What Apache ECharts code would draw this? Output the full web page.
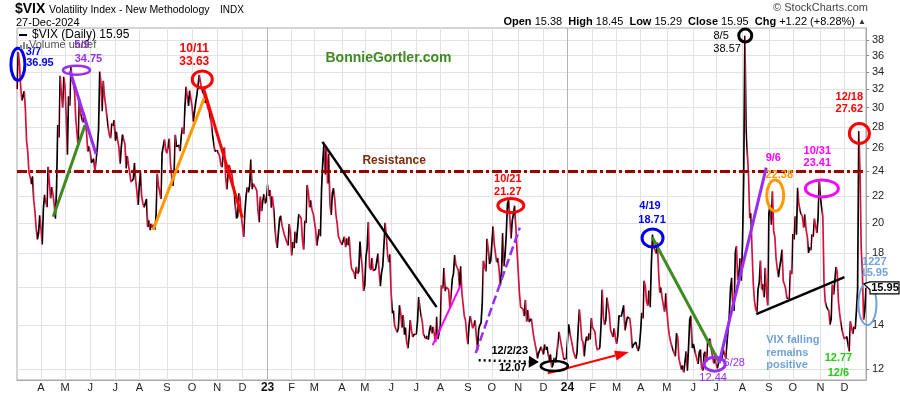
<!DOCTYPE html>
<html><head><meta charset="utf-8">
<script src="https://cdn.jsdelivr.net/npm/echarts@6/dist/echarts.min.js"></script>
<style>html,body{margin:0;padding:0;background:#fff}#c{width:900px;height:396px}</style>
</head><body><div id="c"></div>
<script>
const FONT = '"Liberation Sans", Arial, sans-serif';
const monthLetters = ['J','F','M','A','M','J','J','A','S','O','N','D'];
const yTicks = [12,14,16,18,20,22,24,26,28,30,32,34,36,38];
const resistanceLevel = 24;

// VIX daily closes, one inner array per month (trading days)
const vix2022 = [ // Mar (from 3/4) .. Dec
 [31.98,36.45,35.13,32.45,30.75,30.75,31.77,29.83,26.67,25.67,23.87,23.53,22.94,23.57,21.67,20.81,19.63,18.90,19.33,20.56],
 [19.63,18.57,21.03,22.10,21.55,21.16,24.37,24.26,21.82,22.70,22.17,21.37,20.32,22.68,28.21,27.02,33.52,31.60,29.99,33.40],
 [32.34,29.25,25.42,31.20,30.19,34.75,32.99,32.56,31.77,28.87,27.47,26.10,30.96,29.35,29.43,28.48,29.45,28.37,27.50,25.72,26.19],
 [25.69,24.72,24.79,25.07,24.02,23.96,26.09,27.75,34.02,32.69,29.62,32.95,31.13,30.19,28.95,29.05,27.23,26.95,28.36,28.16,28.71],
 [26.70,27.54,26.73,26.08,24.64,26.17,27.29,26.82,26.40,24.23,25.30,24.50,23.88,23.11,23.03,23.36,24.69,23.24,22.33,21.33],
 [22.84,23.93,21.95,21.44,21.15,21.29,21.77,19.74,20.20,19.53,19.95,19.69,19.90,19.56,20.60,23.80,22.82,22.32,21.78,25.56,26.21,26.83,25.87],
 [25.56,25.47,26.91,24.64,23.61,22.79,23.87,27.27,26.16,26.27,26.30,25.76,27.16,27.99,27.35,29.92,32.26,32.18,30.18,31.84,31.62],
 [30.10,28.55,28.55,30.52,31.36,32.45,33.63,33.57,31.94,32.02,31.37,30.50,30.76,29.98,29.69,29.85,28.46,27.28,27.39,25.75,25.88],
 [25.81,25.86,25.30,24.55,24.35,25.54,26.09,23.53,22.52,23.73,24.54,24.11,23.93,23.12,22.36,22.36,20.35,20.50,22.21,21.89,20.58],
 [19.84,19.06,20.75,21.97,22.68,22.29,22.83,25.00,22.55,22.97,22.83,22.62,22.42,20.87,20.07,21.97,20.87,21.65,22.14,21.44,21.67]
];
const vix2023 = [
 [22.90,22.01,22.46,21.13,21.97,21.07,21.09,18.83,18.35,19.36,20.34,20.52,19.85,19.81,19.20,19.08,18.73,18.51,19.94,19.40],
 [17.87,18.73,18.33,19.43,18.66,19.63,20.63,20.53,20.34,18.91,18.23,20.17,20.02,22.87,22.29,21.14,21.67,20.95,20.70],
 [20.58,19.59,18.49,18.61,19.59,19.11,22.61,24.80,26.52,23.73,26.14,22.99,25.51,21.38,20.60,22.26,22.61,21.74,20.60,19.97,19.12,19.02,18.70],
 [18.55,18.58,19.08,18.40,18.97,18.53,19.09,17.80,17.07,16.95,16.83,16.46,17.17,16.77,16.89,18.76,18.84,17.03,15.78],
 [16.08,17.78,18.34,20.09,17.19,16.98,17.71,16.94,16.93,17.03,17.12,17.99,16.87,16.05,16.81,17.21,18.53,20.03,19.14,17.95,17.46,17.94],
 [15.65,14.60,14.73,13.96,13.94,13.65,13.83,15.01,14.61,13.88,14.50,13.54,13.88,13.20,12.91,13.44,14.25,13.74,13.43,13.54,13.59],
 [13.57,14.18,15.44,14.83,14.84,14.15,13.54,13.61,13.34,13.48,13.30,13.76,13.99,13.60,13.91,13.86,13.19,14.41,13.33,13.63],
 [13.93,16.09,15.92,17.10,15.77,15.99,15.96,15.85,14.84,14.82,16.46,16.78,17.89,17.30,17.13,16.97,15.98,17.20,15.68,15.08,14.45,14.24,13.57],
 [13.09,14.02,14.45,14.40,13.84,13.80,14.23,13.48,12.82,13.79,14.00,14.11,15.14,17.54,17.20,16.90,18.94,18.22,17.34,17.52],
 [17.61,19.78,18.58,18.49,17.45,17.70,17.03,16.09,16.69,19.32,17.21,17.88,19.22,21.40,21.71,20.37,18.97,20.19,20.68,21.27,19.75,18.14],
 [16.87,15.66,14.91,14.89,14.81,14.45,15.29,14.17,14.76,14.16,14.18,14.32,13.80,13.41,13.35,12.85,12.46,12.69,12.69,12.98,12.92],
 [12.63,13.08,12.85,12.97,13.06,12.35,12.63,12.07,12.19,12.48,12.28,12.56,12.53,13.67,13.65,13.03,12.99,12.43,12.47,12.45]
];
const vix2024 = [
 [13.20,14.04,14.13,13.35,13.08,12.76,12.69,12.44,12.70,13.84,14.79,14.13,13.30,13.19,12.55,13.14,13.45,13.26,13.60,13.31,14.35],
 [13.88,13.85,13.67,13.06,12.83,12.79,12.93,13.93,15.85,14.38,14.01,14.24,15.42,15.34,14.54,13.75,13.74,13.43,13.84,13.40],
 [13.11,13.49,14.46,14.50,14.44,14.74,15.01,13.75,13.75,14.40,14.41,14.33,13.82,12.92,13.06,13.06,13.19,13.24,12.78,13.01],
 [13.65,14.61,14.33,16.35,16.03,15.19,14.98,15.80,14.91,17.31,19.23,18.40,18.21,18.00,18.71,16.94,15.69,15.97,15.37,15.03,14.67,15.65],
 [14.68,14.00,13.49,13.23,13.00,13.00,12.69,12.55,13.60,13.42,12.45,12.42,11.99,12.15,11.86,12.29,12.77,11.93,12.92,14.28,14.47,12.92],
 [13.11,13.16,12.63,12.58,12.22,12.74,12.85,12.04,11.94,12.66,12.75,12.30,13.28,13.20,13.33,12.84,12.55,12.24,12.44],
 [12.22,12.03,12.09,12.48,12.37,12.51,12.85,12.89,12.46,13.12,13.19,14.48,15.93,16.52,14.91,14.72,18.04,18.46,16.39,16.60,17.69,16.36],
 [18.59,23.39,38.57,27.71,27.85,23.79,20.37,20.71,18.12,16.19,15.23,14.80,14.65,15.88,16.27,17.55,15.86,16.15,15.43,17.11,15.65,15.00],
 [20.72,21.32,19.90,22.38,19.45,19.08,17.69,17.07,16.56,17.14,17.61,18.23,16.33,16.15,15.89,15.39,15.41,15.37,16.96,16.73],
 [19.26,18.90,20.49,19.21,22.64,21.42,20.86,20.93,20.46,19.70,20.64,19.58,19.11,18.03,18.37,18.20,19.24,19.08,20.33,19.80,19.34,20.35,23.16],
 [21.88,21.98,20.49,16.27,15.20,14.94,14.97,14.71,14.02,14.31,16.14,15.58,16.35,17.16,16.87,15.24,14.60,14.10,14.10,13.51],
 [13.34,13.30,13.45,13.54,12.77,14.19,14.18,13.58,13.92,13.81,14.69,15.87,27.62,24.09,18.36,16.78,14.27,14.73,15.95]
];
const yearBlocks = [[2022, 3, vix2022], [2023, 1, vix2023], [2024, 1, vix2024]];

// Annotation anchors in data space: [tradingDayIndex, value, ...]
const BLUE='#0000ee', PURPLE='#9a2ef0', RED='#ff0000', ORANGE='#ff9900', GREEN='#3f8a22',
      MAGENTA='#ff00ff', LBLUE='#6fa3da', BGREEN='#22cc11';
const noteEllipses = [
 [0.75,34.9,14,32,BLUE,3],[49.6,34.2,27,9,PURPLE,2.5],[154.5,33.1,20,17,RED,3],
 [411.8,21.28,26,14,RED,3],[448.1,12.13,27,10,'#000',2.5],[530.0,19.0,21,18,BLUE,3],
 [581.8,12.21,21,14,PURPLE,3],[607.3,38.6,13,13,'#000',3],[632.3,22.04,17,31,ORANGE,3],
 [671.2,22.59,33,17,MAGENTA,3],[702.5,27.4,20,20,RED,3],[709.2,15.07,18,42,LBLUE,2]
];
const noteLines = [
 [30.2,20.46,56.7,28.2,GREEN,3],[44.2,34.1,65.9,25.5,PURPLE,3],
 [113.5,19.53,156.1,31.0,ORANGE,3],[155.3,32.2,187.9,20.4,RED,3],
 [254.7,26.6,349.9,14.91,'#000',2.5],[346.6,13.05,370.0,16.1,MAGENTA,2],
 [382.5,12.69,419.3,19.7,PURPLE,2.5,[9,4]],
 [529.6,19.06,585.5,12.30,GREEN,3],[585.5,12.25,624.8,24.3,PURPLE,3],
 [616.5,14.55,690.0,16.56,'#000',2.5]
];
const noteArrows = [
 [385.0,12.38,435.2,12.30,'#000',2.5,[2,3],10,6],
 [442.7,11.83,510.3,12.74,RED,2,null,14,5]
];
const noteTexts = [
 [13.7,36.44,'3/7',BLUE,11,true],[19.1,35.06,'36.95',BLUE,11,true],
 [54.2,37.34,'5/9',PURPLE,11,true],[59.6,35.56,'34.75',PURPLE,11,true],
 [147.8,36.82,'10/11',RED,12,true],[147.8,35.19,'33.63',RED,12,true],
 [314.5,24.91,'Resistance','#7a2e0e',12,true],
 [309.8,35.68,'BonnieGortler.com',GREEN,14,true],
 [409.3,23.35,'10/21',RED,11,true],[409.3,22.31,'21.27',RED,11,true],
 [410.9,12.78,'12/2/23','#000',11,true],[413.4,12.04,'12.07','#000',11,true],
 [527.9,21.24,'4/19',BLUE,11,true],[529.6,20.23,'18.71',BLUE,11,true],
 [598.1,12.25,'6/28',PURPLE,11,false],[580.5,11.63,'12.44',PURPLE,11,false],
 [587.2,38.54,'8/5','#000',11,false],[592.2,36.82,'38.57','#000',11,false],
 [630.7,25.13,'9/6',MAGENTA,11,true],[635.7,23.68,'22.38',ORANGE,11,true],
 [667.4,25.8,'10/31',MAGENTA,11,true],[667.4,24.70,'23.41',MAGENTA,11,true],
 [694.1,31.12,'12/18',RED,11,true],[694.1,29.84,'27.62',RED,11,true],
 [714.9,17.46,'1227',LBLUE,11,true],[714.9,16.80,'15.95',LBLUE,11,true],
 [624.8,13.28,'VIX falling',LBLUE,11,true,'left'],[624.8,12.71,'remains',LBLUE,11,true,'left'],
 [624.8,12.17,'positive',LBLUE,11,true,'left'],
 [685.0,12.47,'12.77',BGREEN,11,true],[685.0,11.83,'12/6',BGREEN,11,true]
];

// Build categories / values
const cats = [], vals = [];
yearBlocks.forEach(([y, m0, months]) => months.forEach((mon, mi) => {
  const m = String(m0 + mi).padStart(2, '0');
  mon.forEach((v, k) => { cats.push(y + '-' + m + '-' + k); vals.push(v); });
}));
const isMonthStart = (i, v) => i > 0 && /-0$/.test(v);
const yearStarts = cats.filter(c => /-01-0$/.test(c));

const UP = '#000000', DOWN = '#d3123d';
const pieces = [];
let rs = 0, ru = vals[1] >= vals[0];
for (let i = 2; i < vals.length; i++) {
  const u = vals[i] >= vals[i-1];
  if (u !== ru) { pieces.push(pieces.length ? {gt: rs, lte: i-1, color: ru?UP:DOWN} : {gte: rs, lte: i-1, color: ru?UP:DOWN}); rs = i-1; ru = u; }
}
pieces.push({gt: rs, lte: vals.length-1, color: ru?UP:DOWN});

const chart = echarts.init(document.getElementById('c'), null, {renderer: 'canvas'});
const GRID = '#e2e2e2';
chart.setOption({
  animation: false,
  grid: {left: 17, right: 34, top: 28, bottom: 16, show: true, borderColor: '#a8a8a8', borderWidth: 1, containLabel: false, outerBoundsMode: 'none'},
  xAxis: {
    type: 'category', data: cats, boundaryGap: false,
    axisLine: {show: true, lineStyle: {color: '#a8a8a8'}},
    axisTick: {show: false},
    axisLabel: {interval: isMonthStart, margin: 2,
      formatter: v => { const p = v.split('-'); const m = +p[1];
        return m === 1 ? '{y|' + p[0].slice(2) + '}' : '{m|' + monthLetters[m-1] + '}'; },
      rich: {m: {fontSize: 11, color: '#222', fontFamily: FONT}, y: {fontSize: 12, fontWeight: 'bold', color: '#111', fontFamily: FONT}}},
    splitLine: {show: true, interval: isMonthStart, lineStyle: {color: GRID, width: 1}}
  },
  yAxis: {
    type: 'log', position: 'right', min: 11.55, max: 39.64, logBase: 10,
    axisLine: {show: true, lineStyle: {color: '#a8a8a8'}},
    axisTick: {show: true, length: 3, customValues: yTicks, lineStyle: {color: '#888'}},
    axisLabel: {customValues: yTicks, margin: 6, color: '#222', fontSize: 11, fontFamily: FONT},
    splitLine: {show: true, lineStyle: {color: GRID, width: 1}}
  },
  visualMap: {show: false, type: 'piecewise', dimension: 0, seriesIndex: 0, pieces: pieces, outOfRange: {color: DOWN}},
  series: [{
    type: 'line', data: vals, showSymbol: false, symbol: 'none', z: 3,
    lineStyle: {width: 1.7},
    markLine: {silent: true, symbol: 'none', animation: false, label: {show: false},
      data: [
        ...yearStarts.map(c => ({xAxis: c, lineStyle: {color: '#b4b4b4', width: 1, type: 'solid'}})),
        {yAxis: resistanceLevel, lineStyle: {color: '#990000', width: 3, type: [10, 3, 3, 3]}}
      ]}
  }]
});

// Annotations positioned through the chart's own scales
const f0 = chart.convertToPixel({xAxisIndex: 0, yAxisIndex: 0}, [0, 20]);
const f1 = chart.convertToPixel({xAxisIndex: 0, yAxisIndex: 0}, [vals.length - 1, 20]);
const PX = i => f0[0] + (f1[0] - f0[0]) * i / (vals.length - 1);
const PY = v => chart.convertToPixel({yAxisIndex: 0}, v);
const g = [];
noteLines.forEach(([i1, v1, i2, v2, c, w, d]) => g.push({type: 'line', z: 50,
  shape: {x1: PX(i1), y1: PY(v1), x2: PX(i2), y2: PY(v2)},
  style: {stroke: c, lineWidth: w, lineDash: d || null, lineCap: 'butt'}}));
noteArrows.forEach(([i1, v1, i2, v2, c, w, d, hl, hw]) => {
  const x1 = PX(i1), y1 = PY(v1), x2 = PX(i2), y2 = PY(v2);
  const dx = x2 - x1, dy = y2 - y1, L = Math.hypot(dx, dy), ux = dx / L, uy = dy / L;
  const bx = x2 - ux * hl, by = y2 - uy * hl;
  g.push({type: 'line', z: 50, shape: {x1, y1, x2: bx, y2: by}, style: {stroke: c, lineWidth: w, lineDash: d || null}});
  g.push({type: 'polygon', z: 50, shape: {points: [[x2, y2], [bx - uy * hw, by + ux * hw], [bx + uy * hw, by - ux * hw]]}, style: {fill: c}});
});
noteEllipses.forEach(([i, v, w, h, c, lw]) => g.push({type: 'ellipse', z: 51,
  shape: {cx: PX(i), cy: PY(v), rx: w / 2, ry: h / 2}, style: {fill: 'none', stroke: c, lineWidth: lw}}));
noteTexts.forEach(([i, v, t, c, s, b, al]) => g.push({type: 'text', z: 52, x: PX(i), y: PY(v),
  style: {text: t, fill: c, font: (b ? 'bold ' : '') + s + 'px ' + FONT, align: al || 'center', verticalAlign: 'middle'}}));

// last value tag on the axis
const lastY = PY(vals[vals.length - 1]);
g.push({type: 'polygon', z: 60, shape: {points: [[864, lastY - 4], [870, lastY - 6], [899, lastY - 6], [899, lastY + 6], [870, lastY + 6], [870, lastY + 2]]},
  style: {fill: '#fff', stroke: '#000', lineWidth: 1.2}});
g.push({type: 'text', z: 61, x: 885, y: lastY, style: {text: vals[vals.length - 1].toFixed(2), fill: '#000', font: 'bold 11px ' + FONT, align: 'center', verticalAlign: 'middle'}});

// header + legend
g.push({type: 'text', z: 70, x: 15, y: 9.5, style: {text: '$VIX', fill: '#000', font: 'bold 14px ' + FONT, verticalAlign: 'middle'}});
g.push({type: 'text', z: 70, x: 49, y: 10, style: {text: 'Volatility Index - New Methodology', fill: '#000', font: '10.5px ' + FONT, verticalAlign: 'middle'}});
g.push({type: 'text', z: 70, x: 220, y: 10.5, style: {text: 'INDX', fill: '#000', font: '10px ' + FONT, verticalAlign: 'middle'}});
g.push({type: 'text', z: 70, x: 16, y: 23, style: {text: '27-Dec-2024', fill: '#000', font: '11px ' + FONT, verticalAlign: 'middle'}});
g.push({type: 'text', z: 70, x: 868, y: 8, style: {text: '\u00A9 StockCharts.com', fill: '#444', font: '11px ' + FONT, align: 'right', verticalAlign: 'middle'}});
g.push({type: 'text', z: 70, x: 866, y: 22, style: {
  text: '{b|Open} 15.38  {b|High} 18.45  {b|Low} 15.29  {b|Close} 15.95  {b|Chg} +1.22 (+8.28%) {t|\u25B2}',
  fill: '#000', font: '11px ' + FONT, align: 'right', verticalAlign: 'middle',
  rich: {b: {fontWeight: 'bold', fontSize: 11, fontFamily: FONT, fill: '#000'}, t: {fontSize: 8, fill: '#333', fontFamily: FONT}}}});
g.push({type: 'line', z: 70, shape: {x1: 19, y1: 35, x2: 27, y2: 35}, style: {stroke: '#000', lineWidth: 2}});
g.push({type: 'text', z: 70, x: 32, y: 35, style: {text: '$VIX (Daily) 15.95', fill: '#000', font: '12px ' + FONT, verticalAlign: 'middle'}});
[[20, 4], [23, 7], [26, 5]].forEach(([x, h]) => g.push({type: 'rect', z: 70, shape: {x: x, y: 49 - h, width: 2, height: h}, style: {fill: '#888'}}));
g.push({type: 'text', z: 69, x: 29, y: 45, style: {text: 'Volume undef', fill: '#555', font: '11px ' + FONT, verticalAlign: 'middle'}});

chart.setOption({graphic: {elements: g}});
</script></body></html>
